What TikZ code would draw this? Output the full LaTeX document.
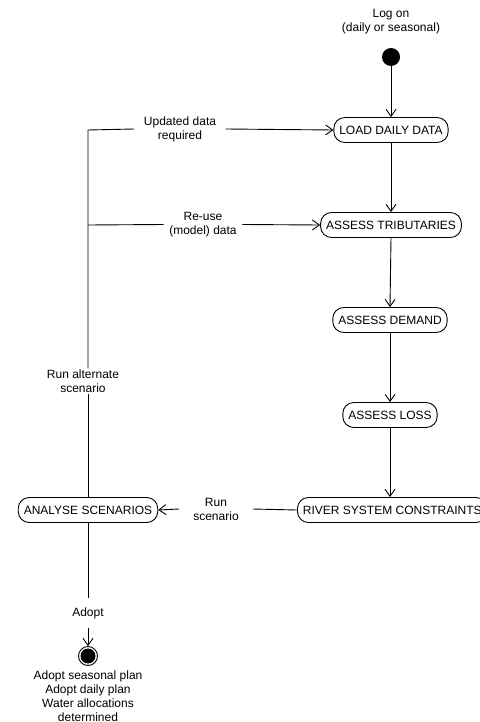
\documentclass[tikz,border=0pt]{standalone}
\usepackage{fontspec}
\setmainfont{Liberation Sans}
\usetikzlibrary{arrows.meta}
\begin{document}
\begin{tikzpicture}[x=1pt,y=-1pt,
  font=\fontsize{12}{14}\selectfont,
  state/.style={draw, line width=0.9pt, rounded corners=11pt, minimum height=25pt, inner xsep=5.5pt, inner ysep=0pt},
  lbl/.style={align=center, inner sep=0pt},
  flow/.style={line width=0.9pt},
  arr/.style={flow, -{Straight Barb[length=7pt,width=10pt,line width=0.9pt]}},
]
\useasboundingbox (0,0) rectangle (479,722);
% start / end
\node[lbl] (logon) at (391,22) {Log on\\(daily or seasonal)};
\node[circle, fill=black, inner sep=0pt, minimum size=18pt] (start) at (391,57) {};
\node[circle, draw, line width=0.9pt, inner sep=0pt, minimum size=19pt] (end) at (88,656) {};
\fill (end.center) circle (7.5pt);
\node[lbl] (endtxt) at (88,696) {Adopt seasonal plan\\Adopt daily plan\\Water allocations\\determined};
% states
\node[state] (load) at (391,130) {LOAD DAILY DATA};
\node[state] (trib) at (391,225) {ASSESS TRIBUTARIES};
\node[state] (demand) at (390,320) {ASSESS DEMAND};
\node[state] (loss) at (390,415) {ASSESS LOSS};
\node[state, anchor=west] (river) at (297,510) {RIVER SYSTEM CONSTRAINTS};
\node[state] (analyse) at (88,510) {ANALYSE SCENARIOS};
% corner points
\coordinate (c1) at (88,130);
\coordinate (c2) at (88,225);
% labels
\node[lbl, inner xsep=9.5pt] (upd) at (180,129) {Updated data\\required};
\node[lbl, inner xsep=5.5pt] (reuse) at (203,224.5) {Re-use\\(model) data};
\node[lbl, inner ysep=1pt] (ras) at (83,381) {Run alternate\\scenario};
\node[lbl, inner xsep=14pt] (rs) at (216,509) {Run\\scenario};
\node[lbl, inner ysep=9pt] (adopt) at (88,613) {Adopt};
% main flow
\draw[arr] (start) -- (load.north);
\draw[arr] (load.south) -- (trib.north);
\draw[arr] (trib.south) -- (demand.north);
\draw[arr] (demand.south) -- (loss.north);
\draw[arr] (loss.south) -- (loss.south |- river.north);
\draw[flow] (river.west) -- (rs.east);
\draw[arr] (rs.west) -- (analyse.east);
% loop back
\draw[flow] (analyse.north) -- (analyse.north |- ras.south);
\draw[flow] (analyse.north |- ras.north) -- (c1) -- (upd.west);
\draw[arr] (upd.east) -- (load.west);
\draw[flow] (c2) -- (reuse.west);
\draw[arr] (reuse.east) -- (trib.west);
% adopt
\draw[flow] (analyse.south) -- (analyse.south |- adopt.north);
\draw[arr] (analyse.south |- adopt.south) -- (end.north);
\end{tikzpicture}
\end{document}
